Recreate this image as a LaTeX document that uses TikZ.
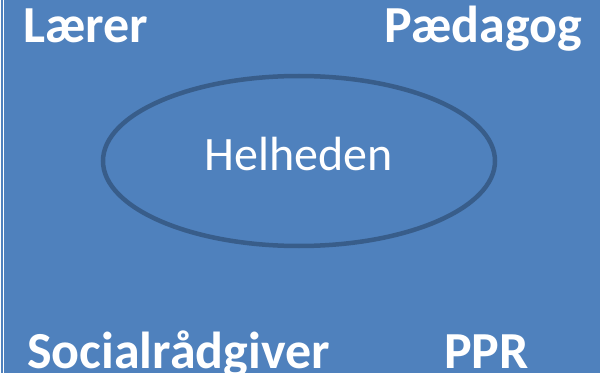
\documentclass[tikz,border=0pt]{standalone}
\usepackage{fontspec}
\setmainfont{Carlito}
\usepackage{tikz}
\usetikzlibrary{shapes.geometric}
\definecolor{bgblue}{HTML}{4F81BD}
\definecolor{rimblue}{HTML}{385D8A}
\tikzset{
    role/.style={text=white,font=\fontsize{52}{52}\selectfont\bfseries,inner sep=0pt},
    whole/.style={ellipse,draw=rimblue,line width=4.5pt,minimum width=392pt,minimum height=170pt,inner sep=0pt},
    wholetext/.style={text=white,font=\fontsize{48}{48}\selectfont,inner sep=0pt},
    edgeline/.style={white,line width=1.3pt},
    }

\begin{document}
\begin{tikzpicture}[x=1pt,y=1pt]
        \fill[bgblue] (0,0) rectangle (600,373);
        \useasboundingbox (0,0) rectangle (600,373);
        \coordinate (l1t) at (0.7,373);
        \coordinate (l1b) at (0.7,0);
        \coordinate (l2t) at (3.8,373);
        \coordinate (l2b) at (3.8,0);
        \draw[edgeline] (l1t) -- (l1b);
        \draw[edgeline] (l2t) -- (l2b);

        \node[whole] (ring) at (299,212) {};
        \node[wholetext,anchor=base] (hel) at (298.5,203) {Helheden};

        \node[role,anchor=base west] (laerer) at (23,330) {Lærer};
        \node[role,anchor=base east] (paed) at (582,330) {Pædagog};
        \node[role,anchor=base west] (soc) at (27,5) {Socialrådgiver};
        \node[role,anchor=base west] (ppr) at (444,5) {PPR};
\end{tikzpicture}
\end{document}
